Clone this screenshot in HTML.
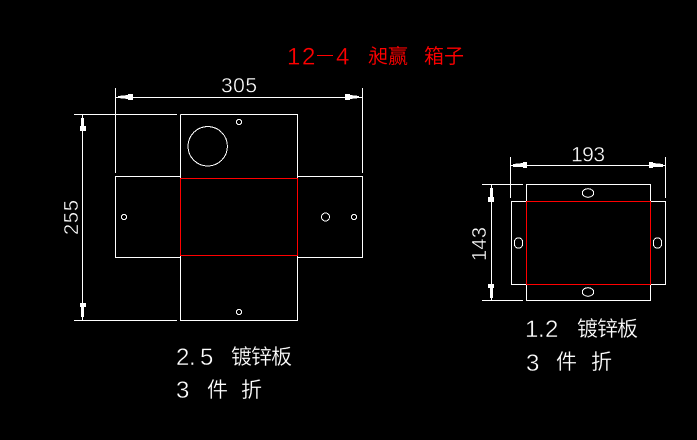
<!DOCTYPE html>
<html><head><meta charset="utf-8"><style>
html,body{margin:0;padding:0;background:#000;width:697px;height:440px;overflow:hidden}
svg{display:block}
.w{fill:none;stroke:#fff;stroke-width:1;shape-rendering:crispEdges}
.r{fill:none;stroke:#f00;stroke-width:1;shape-rendering:crispEdges}
.c{fill:none;stroke:#fff;stroke-width:1;shape-rendering:crispEdges}
.a{fill:#fff;stroke:none;shape-rendering:crispEdges}
text{font-family:"Liberation Sans","WenQuanYi Zen Hei","Noto Sans CJK SC",sans-serif;stroke:#000;stroke-width:.4}
.n{fill:#fff;font-size:21px}
.b{fill:#fff;font-size:24px}
.t{fill:#f00;font-size:24px;stroke-width:.3}
.cj{fill:#fff;font-size:21px;stroke-width:.2}
.cr{fill:#f00;font-size:20px;stroke-width:.1}
</style></head><body>
<svg width="697" height="440" viewBox="0 0 697 440" xmlns="http://www.w3.org/2000/svg">
<rect width="697" height="440" fill="#000"/>

<!-- left drawing -->
<path class="w" d="M180.5 114.5H297.5V178M180.5 114.5V178M180.5 255V320.5H297.5V255"/>
<path class="w" d="M180 176.5H115.5V257.5H180M298 176.5H362.5V257.5H298"/>
<rect class="r" x="180.5" y="178.5" width="117" height="77"/>
<circle class="c" cx="207.7" cy="146.3" r="19.7"/>
<circle class="c" cx="239" cy="122" r="2.6"/>
<circle class="c" cx="124" cy="217" r="2.6"/>
<circle class="c" cx="325.5" cy="217" r="4"/>
<circle class="c" cx="354" cy="217" r="2.6"/>
<circle class="c" cx="239" cy="312" r="2.6"/>

<!-- dims left -->
<path class="w" d="M115.5 88V173M362.5 88V173M115 97.5H362"/>
<path class="w" d="M74 114.5H177M74 320.5H177M82.5 114V320"/>
<polygon class="a" points="118,96 128,95 128,94 133,94 133,100 128,100 128,99 118,98"/>
<polygon class="a" points="359,96 350,95 350,94 345,94 345,100 350,100 350,99 359,98"/>
<rect class="a" x="81" y="118" width="3" height="8"/><rect class="a" x="80" y="126" width="6" height="5"/>
<rect class="a" x="81" y="307" width="3" height="10"/><rect class="a" x="80" y="303" width="6" height="4"/>

<text class="n" x="221" y="92.5" textLength="36">305</text>
<text class="n" transform="translate(78,235) rotate(-90)" textLength="35" style="font-size:20px">255</text>

<!-- right drawing -->
<path class="w" d="M526.5 201V184.5H650.5V201M526.5 284V300.5H650.5V284"/>
<path class="w" d="M526 201.5H511.5V284.5H526M651 201.5H665.5V284.5H651"/>
<rect class="r" x="526.5" y="201.5" width="124" height="83"/>
<ellipse class="c" cx="588" cy="193" rx="5.7" ry="4.3"/>
<ellipse class="c" cx="588" cy="292" rx="5.7" ry="4.3"/>
<rect class="c" x="514.5" y="238" width="8" height="10" rx="3.5"/>
<rect class="c" x="653.5" y="238" width="8" height="10" rx="3.5"/>

<path class="w" d="M510.5 157V198M665.5 157V198M511 165.5H665"/>
<path class="w" d="M482 184.5H523M482 300.5H523M491.5 184V300"/>
<polygon class="a" points="513,164 523,163 523,162 527,162 527,168 523,168 523,167 513,167"/>
<polygon class="a" points="663,164 653,163 653,162 649,162 649,168 653,168 653,167 663,167"/>
<rect class="a" x="490" y="188" width="3" height="9"/><rect class="a" x="488" y="197" width="6" height="5"/>
<rect class="a" x="490" y="288" width="3" height="10"/><rect class="a" x="488" y="284" width="6" height="4"/>

<text class="n" x="571" y="161.5" textLength="34">193</text>
<text class="n" transform="translate(486,261) rotate(-90)" textLength="34" style="font-size:20px">143</text>

<!-- title -->
<text class="t" x="287" y="64.5">1</text>
<text class="t" x="302" y="64.5">2</text>
<rect x="317" y="55" width="16" height="1" fill="#f00"/>
<text class="t" x="336" y="64.5">4</text>
<text class="cr" x="368" y="63">昶赢</text>
<text class="cr" x="424" y="63">箱子</text>

<!-- left notes -->
<text class="b" x="176" y="365">2</text>
<text class="b" x="189" y="365">.</text>
<text class="b" x="200" y="365">5</text>
<text class="cj" x="231" y="364" textLength="61">镀锌板</text>
<text class="b" x="176" y="398">3</text>
<text class="cj" x="207" y="397">件</text>
<text class="cj" x="241" y="397">折</text>

<!-- right notes -->
<text class="b" x="525" y="337">1</text>
<text class="b" x="538" y="337">.</text>
<text class="b" x="545" y="337">2</text>
<text class="cj" x="577" y="336" textLength="61">镀锌板</text>
<text class="b" x="526" y="371">3</text>
<text class="cj" x="556" y="369">件</text>
<text class="cj" x="591" y="369">折</text>
</svg>
</body></html>
